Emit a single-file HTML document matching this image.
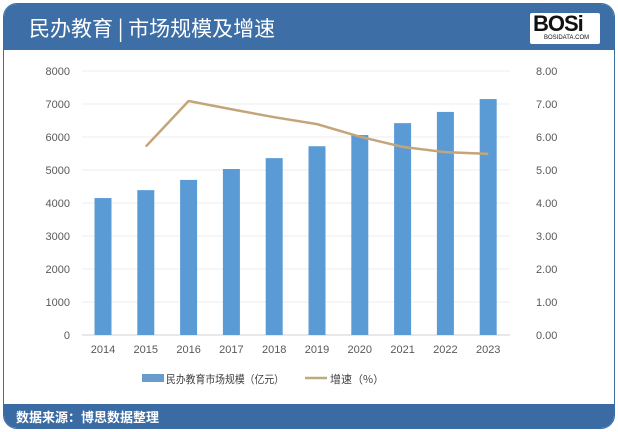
<!DOCTYPE html>
<html><head><meta charset="utf-8"><style>
body{margin:0;width:618px;height:432px;background:#fff;overflow:hidden;font-family:"Liberation Sans","Noto Sans CJK SC",sans-serif;}
#frame{position:absolute;left:3px;top:3px;width:610px;height:424px;border:1px solid #3c6ea5;border-radius:14px;overflow:hidden;background:#fff;}
#header{position:absolute;left:0;top:0;width:610px;height:46px;background:#3d6fa6;}
#title{position:absolute;left:25px;top:9px;color:#fff;font-size:21px;font-family:"Noto Sans CJK SC",sans-serif;}
#logo{position:absolute;left:526px;top:9px;width:70px;height:31px;background:#fff;border-radius:2px;}
#logo .b{position:absolute;left:3px;top:-2px;font:900 22px "Liberation Sans",sans-serif;color:#111;letter-spacing:-1px;}
#logo .s{position:absolute;left:14px;top:22px;font:6px "Liberation Sans",sans-serif;color:#111;}
#footer{position:absolute;left:0;top:400px;width:610px;height:24px;background:#3a6ba3;}
#source{position:absolute;left:12px;top:3px;color:#fff;font-size:13px;font-weight:bold;font-family:"Noto Sans CJK SC",sans-serif;}
svg{position:absolute;left:0;top:0;}
</style></head><body>
<div id="frame">
<div id="header">
<div id="title">民办教育 | 市场规模及增速</div>
<div id="logo"><span class="b">BOSi</span><span class="s">BOSIDATA.COM</span></div>
</div>
<div id="footer"><div id="source">数据来源：博思数据整理</div></div>
</div>
<svg id="chart" width="618" height="432"></svg>
<script>
const years=["2014","2015","2016","2017","2018","2019","2020","2021","2022","2023"];
const marketSize=[4150,4390,4700,5030,5360,5720,6060,6420,6760,7150];
const growth=[null,5.71,7.09,6.84,6.60,6.39,6.01,5.70,5.54,5.49];
const leftTicks=[0,1000,2000,3000,4000,5000,6000,7000,8000];
const rightTicks=["0.00","1.00","2.00","3.00","4.00","5.00","6.00","7.00","8.00"];
const svg=document.getElementById('chart');
const NS='http://www.w3.org/2000/svg';
const y0=335,y1=71,x0=103,step=42.8;
const yL=v=>y0-(v/8000)*(y0-y1);
const yR=v=>y0-(v/8)*(y0-y1);
const xC=i=>x0+i*step;
function mk(t,a){const e=document.createElementNS(NS,t);for(const k in a)e.setAttribute(k,a[k]);svg.appendChild(e);return e;}
leftTicks.forEach((v,i)=>{
 const g=mk('line',{x1:82,x2:510,y1:yL(v),y2:yL(v),stroke:i==0?'#d0d0d0':'#ececec','stroke-width':1});
 
 
 const t=mk('text',{x:70,y:yL(v)+4,'text-anchor':'end','font-size':11,fill:'#595959'});t.textContent=v;
 
 
 const r=mk('text',{x:536,y:yL(v)+4,'font-size':11,fill:'#595959'});r.textContent=rightTicks[i];
 
 
});
years.forEach((y,i)=>{
 const b=mk('rect',{x:xC(i)-8.5,y:yL(marketSize[i]),width:17,height:y0-yL(marketSize[i]),fill:'#5b9bd5'});
 
 
 const t=mk('text',{x:xC(i),y:353,'text-anchor':'middle','font-size':11,fill:'#595959'});t.textContent=y;
 
 
});
let pts=[];growth.forEach((v,i)=>{if(v!=null)pts.push(xC(i)+','+yR(v));});
const ln=mk('polyline',{points:pts.join(' '),fill:'none',stroke:'#c4a57a','stroke-width':2.5,'stroke-linejoin':'round'});


const lb=mk('rect',{x:142,y:374,width:22,height:8,fill:'#6a9ccb'});


const lt=mk('text',{x:166,y:383,'font-size':11,fill:'#404040','font-family':'Noto Sans CJK SC, sans-serif',textLength:118,lengthAdjust:'spacingAndGlyphs'});lt.textContent='民办教育市场规模（亿元）';


const ll=mk('line',{x1:305,x2:327,y1:378,y2:378,stroke:'#b9ad7c','stroke-width':2.5});


const lt2=mk('text',{x:330,y:383,'font-size':11,fill:'#404040','font-family':'Noto Sans CJK SC, sans-serif'});lt2.textContent='增速（%）';


</script>
</body></html>
